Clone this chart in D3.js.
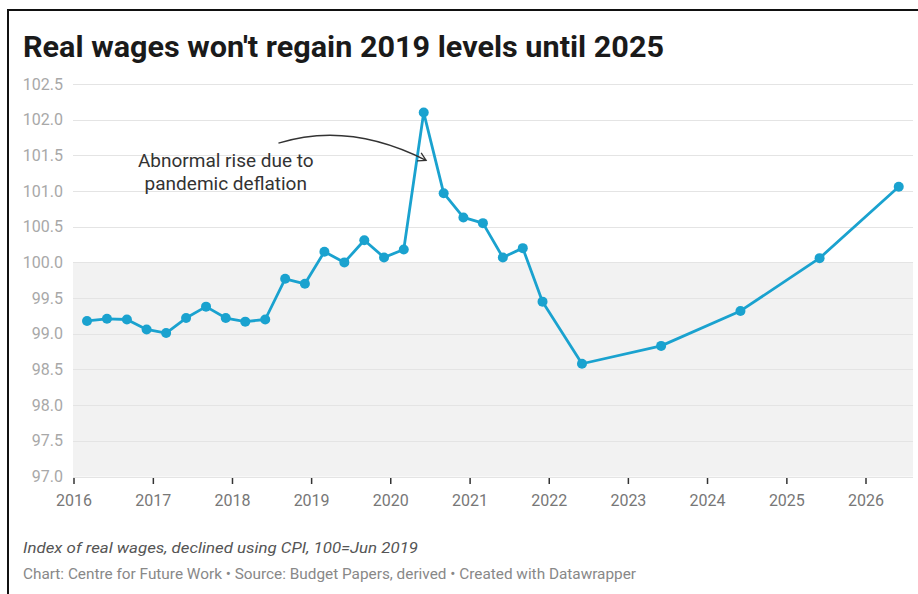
<!DOCTYPE html>
<html>
<head>
<meta charset="utf-8">
<script src="https://cdn.jsdelivr.net/npm/d3@7"></script>
<style>
  body { margin: 0; background: #fff; }
  svg { display: block; font-family: Roboto, "Noto Sans", sans-serif; }
</style>
</head>
<body>
<svg id="chart" width="918" height="594"></svg>
<script>
// Quarterly observations to Dec 2021, then annual June forecasts
const periods = [
  "2016-03", "2016-06", "2016-09", "2016-12",
  "2017-03", "2017-06", "2017-09", "2017-12",
  "2018-03", "2018-06", "2018-09", "2018-12",
  "2019-03", "2019-06", "2019-09", "2019-12",
  "2020-03", "2020-06", "2020-09", "2020-12",
  "2021-03", "2021-06", "2021-09", "2021-12",
  "2022-06", "2023-06", "2024-06", "2025-06", "2026-06"
];
const realWageIndex = [
  99.18, 99.21, 99.20, 99.06,
  99.01, 99.22, 99.38, 99.22,
  99.17, 99.20, 99.77, 99.70,
  100.15, 100.00, 100.31, 100.07,
  100.18, 102.10, 100.97, 100.63,
  100.55, 100.07, 100.20, 99.45,
  98.58, 98.83, 99.32, 100.06, 101.06
];
const yTickValues = [97.0, 97.5, 98.0, 98.5, 99.0, 99.5, 100.0, 100.5, 101.0, 101.5, 102.0, 102.5];
const xTickYears = [2016, 2017, 2018, 2019, 2020, 2021, 2022, 2023, 2024, 2025, 2026];

const titleText = "Real wages won't regain 2019 levels until 2025";
const annotationLines = ["Abnormal rise due to", "pandemic deflation"];
const noteText = "Index of real wages, declined using CPI, 100=Jun 2019";
const creditText = "Chart: Centre for Future Work \u2022 Source: Budget Papers, derived \u2022 Created with Datawrapper";

const parseMonth = d3.timeParse("%Y-%m");
const data = periods.map((p, i) => ({ date: parseMonth(p), value: realWageIndex[i] }));

const svg = d3.select("#chart");
const blue = "#1aa2cf";

const plot = { left: 73, right: 913, top: 84, bottom: 476.5 };

const x = d3.scaleTime()
  .domain([new Date(2016, 0, 1), new Date(2026, 0, 1)])
  .range([74, 866]);
const y = d3.scaleLinear()
  .domain([97, 102.5])
  .range([plot.bottom, plot.top]);

// Frame along the top and left edge
svg.append("path")
  .attr("d", `M8,594V10H918`)
  .attr("fill", "none")
  .attr("stroke", "#111")
  .attr("stroke-width", 2);

// Title
svg.append("text")
  .attr("x", 23).attr("y", 57)
  .attr("font-size", 30).attr("font-weight", 700)
  .attr("fill", "#1a1a1a")
  .attr("textLength", 641).attr("lengthAdjust", "spacingAndGlyphs")
  .text(titleText);

// Shaded band below the 100 baseline
svg.append("rect")
  .attr("x", plot.left).attr("width", plot.right - plot.left)
  .attr("y", y(100)).attr("height", y(97) - y(100))
  .attr("fill", "#f2f2f2");

// Horizontal gridlines and y labels
const yAxis = svg.append("g");
yAxis.selectAll("line")
  .data(yTickValues)
  .join("line")
  .attr("x1", plot.left).attr("x2", plot.right)
  .attr("y1", d => Math.round(y(d)) + 0.5).attr("y2", d => Math.round(y(d)) + 0.5)
  .attr("stroke", "#e4e4e4").attr("stroke-width", 1);
yAxis.selectAll("text")
  .data(yTickValues)
  .join("text")
  .attr("x", 63).attr("y", d => y(d) + 5.5)
  .attr("text-anchor", "end")
  .attr("font-size", 16).attr("fill", "#a8a8a8")
  .text(d => d3.format(".1f")(d));

// X axis ticks and year labels
const xAxis = svg.append("g");
const yearDates = xTickYears.map(yr => new Date(yr, 0, 1));
xAxis.selectAll("line")
  .data(yearDates)
  .join("line")
  .attr("x1", d => x(d)).attr("x2", d => x(d))
  .attr("y1", plot.bottom + 1.5).attr("y2", plot.bottom + 7.5)
  .attr("stroke", "#333").attr("stroke-width", 1.5);
xAxis.selectAll("text")
  .data(yearDates)
  .join("text")
  .attr("x", d => x(d)).attr("y", 506)
  .attr("text-anchor", "middle")
  .attr("font-size", 16).attr("fill", "#777")
  .text(d => d3.timeFormat("%Y")(d));

// Series line and markers
const line = d3.line()
  .x(d => x(d.date))
  .y(d => y(d.value));
svg.append("path")
  .datum(data)
  .attr("d", line)
  .attr("fill", "none")
  .attr("stroke", blue)
  .attr("stroke-width", 2.8)
  .attr("stroke-linejoin", "round");
svg.append("g")
  .selectAll("circle")
  .data(data)
  .join("circle")
  .attr("cx", d => x(d.date))
  .attr("cy", d => y(d.value))
  .attr("r", 5)
  .attr("fill", blue);

// Annotation: label and curved arrow toward the June 2020 spike
const annoX = x(new Date(2017, 11, 1));
const anno = svg.append("text")
  .attr("font-size", 19).attr("fill", "#333")
  .attr("text-anchor", "middle");
annotationLines.forEach((t, i) => {
  anno.append("tspan")
    .attr("x", annoX).attr("y", y(101.43) + 7 + i * 23)
    .text(t);
});

const start = [x(new Date(2018, 7, 1)), y(101.67)];
const ctrl = [x(new Date(2019, 5, 20)), y(101.98)];
const tip = [x(new Date(2020, 5, 12)), y(101.43)];
const arrow = d3.path();
arrow.moveTo(start[0], start[1]);
arrow.quadraticCurveTo(ctrl[0], ctrl[1], tip[0], tip[1]);
svg.append("path")
  .attr("d", arrow.toString())
  .attr("fill", "none")
  .attr("stroke", "#333")
  .attr("stroke-width", 1.3);

const ang = Math.atan2(tip[1] - ctrl[1], tip[0] - ctrl[0]);
const headLen = 9, spread = Math.PI / 6;
const head = d3.path();
head.moveTo(tip[0] - headLen * Math.cos(ang - spread), tip[1] - headLen * Math.sin(ang - spread));
head.lineTo(tip[0], tip[1]);
head.lineTo(tip[0] - headLen * Math.cos(ang + spread), tip[1] - headLen * Math.sin(ang + spread));
svg.append("path")
  .attr("d", head.toString())
  .attr("fill", "none")
  .attr("stroke", "#333")
  .attr("stroke-width", 1.3);

// Notes below the chart
svg.append("text")
  .attr("x", 23).attr("y", 553)
  .attr("font-size", 15).attr("font-style", "italic")
  .attr("fill", "#555")
  .attr("textLength", 395).attr("lengthAdjust", "spacingAndGlyphs")
  .text(noteText);
svg.append("text")
  .attr("x", 23).attr("y", 579)
  .attr("font-size", 14).attr("fill", "#888")
  .attr("textLength", 613).attr("lengthAdjust", "spacingAndGlyphs")
  .text(creditText);
</script>
</body>
</html>
